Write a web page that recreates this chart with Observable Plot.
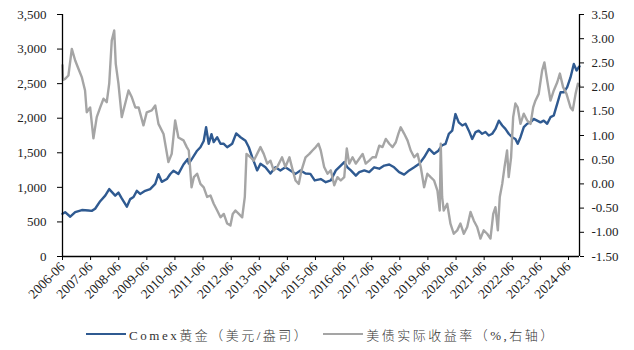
<!DOCTYPE html>
<html><head><meta charset="utf-8">
<script src="https://cdn.jsdelivr.net/npm/d3@7"></script>
<script src="https://cdn.jsdelivr.net/npm/@observablehq/plot@0.6"></script>
<style>
body{margin:0;background:#fff;}
#chart{width:634px;height:350px;overflow:hidden;background:#fff;}
.legend{display:flex;justify-content:center;align-items:center;height:32px;font-family:"Liberation Serif","Noto Sans CJK SC",serif;font-size:13px;font-weight:300;letter-spacing:2.5px;color:#333;padding-left:8px;}
.legend .item{display:flex;align-items:center;}
.legend .sw{width:40px;height:2.5px;margin-right:3px;}
</style></head>
<body><div id="chart"></div>
<script>
const goldDates = ["2006-06-01","2006-07-05","2006-09-10","2006-11-13","2007-02-08","2007-05-04","2007-06-16","2007-07-30","2007-10-04","2007-12-08","2008-01-29","2008-03-02","2008-04-16","2008-05-28","2008-07-10","2008-09-14","2008-10-28","2008-12-10","2009-01-22","2009-03-06","2009-05-10","2009-07-14","2009-09-18","2009-10-30","2009-12-12","2010-02-16","2010-03-30","2010-05-12","2010-07-16","2010-09-20","2010-11-15","2010-11-28","2011-01-12","2011-03-16","2011-04-28","2011-06-10","2011-07-11","2011-08-14","2011-09-19","2011-10-18","2011-12-02","2012-01-14","2012-02-26","2012-04-10","2012-06-14","2012-08-05","2012-09-30","2012-12-04","2013-01-16","2013-02-28","2013-05-04","2013-06-16","2013-08-20","2013-10-24","2013-12-28","2014-03-02","2014-05-06","2014-07-10","2014-09-15","2014-11-18","2015-01-23","2015-03-27","2015-05-22","2015-08-09","2015-10-13","2015-12-17","2016-02-21","2016-04-25","2016-06-09","2016-07-21","2016-09-03","2016-11-07","2016-12-21","2017-02-25","2017-04-29","2017-07-03","2017-09-07","2017-11-11","2018-01-15","2018-03-19","2018-05-23","2018-07-27","2018-10-01","2018-12-05","2019-02-09","2019-04-13","2019-06-17","2019-08-21","2019-10-16","2019-11-28","2020-01-16","2020-02-28","2020-04-12","2020-05-24","2020-07-06","2020-08-20","2020-10-02","2020-11-14","2020-12-28","2021-02-10","2021-03-22","2021-05-06","2021-06-18","2021-07-31","2021-09-14","2021-10-26","2021-12-09","2022-01-22","2022-03-04","2022-04-16","2022-05-31","2022-07-12","2022-08-11","2022-09-16","2022-10-29","2022-12-12","2023-01-25","2023-03-07","2023-04-20","2023-06-03","2023-07-15","2023-08-29","2023-10-11","2023-11-23","2024-01-07","2024-02-19","2024-04-01","2024-05-15","2024-06-27","2024-08-09","2024-09-14","2024-10-13","2024-10-22"];
const goldValues = [617,641,575,641,672,665,660,690,800,880,975,935,880,925,840,720,830,860,950,905,950,975,1050,1190,1080,1120,1190,1240,1195,1330,1410,1345,1420,1530,1580,1670,1870,1630,1770,1655,1725,1630,1630,1580,1630,1780,1725,1675,1580,1440,1245,1340,1290,1200,1290,1245,1290,1245,1195,1245,1200,1195,1100,1120,1075,1100,1245,1315,1365,1290,1245,1170,1220,1245,1220,1290,1270,1315,1330,1290,1220,1185,1245,1290,1340,1435,1555,1485,1530,1605,1630,1775,1820,2060,1940,1895,1920,1820,1700,1800,1820,1775,1800,1750,1775,1845,1965,1895,1845,1775,1725,1700,1630,1725,1870,1920,1940,1990,1965,1940,1965,1920,2015,2040,2210,2375,2375,2450,2590,2785,2690,2740,2750];

const yieldDates = ["2006-06-01","2006-06-07","2006-07-05","2006-08-17","2006-09-30","2006-11-13","2006-12-25","2007-02-08","2007-03-21","2007-04-12","2007-05-26","2007-07-08","2007-08-20","2007-10-04","2007-11-16","2007-12-28","2008-01-29","2008-03-02","2008-04-03","2008-04-23","2008-05-28","2008-07-10","2008-08-24","2008-10-06","2008-11-18","2009-01-02","2009-02-14","2009-04-18","2009-05-31","2009-08-04","2009-09-18","2009-10-30","2010-01-04","2010-03-08","2010-04-20","2010-06-04","2010-07-16","2010-09-20","2010-11-02","2010-11-28","2011-01-03","2011-02-02","2011-03-16","2011-04-28","2011-06-10","2011-07-24","2011-09-06","2011-10-18","2011-12-02","2012-01-14","2012-02-26","2012-04-10","2012-05-22","2012-06-21","2012-07-26","2012-09-08","2012-10-22","2012-11-25","2012-12-17","2013-02-08","2013-03-21","2013-05-04","2013-06-16","2013-07-29","2013-09-12","2013-10-24","2013-12-06","2014-01-20","2014-03-24","2014-05-06","2014-06-28","2014-08-10","2014-09-15","2014-10-27","2014-12-02","2015-01-23","2015-03-14","2015-04-23","2015-06-05","2015-07-10","2015-08-09","2015-09-22","2015-11-05","2015-12-17","2016-01-31","2016-03-13","2016-04-25","2016-06-09","2016-07-12","2016-08-13","2016-09-25","2016-11-07","2016-12-21","2017-02-03","2017-03-15","2017-04-29","2017-06-11","2017-07-23","2017-09-07","2017-10-19","2017-12-01","2018-01-15","2018-02-27","2018-04-10","2018-05-14","2018-06-13","2018-07-27","2018-09-09","2018-10-21","2018-12-05","2019-01-17","2019-02-28","2019-04-13","2019-05-25","2019-07-07","2019-08-21","2019-10-03","2019-11-02","2019-11-15","2019-12-03","2019-12-24","2020-02-07","2020-03-20","2020-05-02","2020-06-16","2020-07-28","2020-09-10","2020-10-24","2020-12-06","2021-01-18","2021-03-02","2021-04-14","2021-05-26","2021-07-10","2021-08-22","2021-09-27","2021-10-26","2021-11-26","2021-12-21","2022-01-22","2022-02-21","2022-03-26","2022-04-16","2022-05-17","2022-06-13","2022-07-12","2022-08-11","2022-09-16","2022-10-29","2022-12-12","2023-01-25","2023-02-28","2023-03-29","2023-05-11","2023-06-24","2023-07-24","2023-08-29","2023-10-11","2023-11-23","2024-01-07","2024-02-10","2024-03-23","2024-05-06","2024-06-27","2024-07-26","2024-09-01","2024-10-01","2024-10-22"];
const yieldValues = [2.45,2.15,2.17,2.24,2.79,2.55,2.38,2.20,1.93,1.48,1.58,0.94,1.38,1.58,1.76,1.69,2.07,2.96,3.17,2.48,2.07,1.38,1.66,1.93,1.79,1.58,1.58,1.21,1.48,1.52,1.62,1.24,1.03,0.45,0.62,1.31,0.96,0.90,0.76,0.69,-0.07,0.14,0.21,0.00,-0.07,-0.27,-0.24,-0.41,-0.55,-0.69,-0.62,-0.82,-0.86,-0.62,-0.55,-0.62,-0.69,-0.27,0.62,0.55,0.48,0.62,0.76,0.62,0.42,0.48,0.28,0.35,0.55,0.35,0.55,0.28,0.07,0.00,0.28,0.55,0.62,0.69,0.76,0.83,0.69,0.35,0.21,0.28,-0.03,0.14,0.07,0.14,0.73,0.42,0.55,0.42,0.52,0.62,0.42,0.48,0.55,0.55,0.79,0.76,0.93,0.83,0.76,0.86,1.04,1.17,1.04,0.90,0.69,0.55,0.62,0.35,-0.07,0.21,0.14,0.07,-0.14,-0.55,0.83,-0.27,-0.55,-0.41,-0.82,-1.03,-0.96,-0.82,-1.03,-0.89,-0.58,-0.76,-0.89,-1.13,-0.96,-1.03,-1.13,-0.62,-0.48,-0.96,-0.27,0.00,0.35,0.69,0.14,0.55,1.38,1.66,1.58,1.24,1.45,1.31,1.24,1.58,1.72,1.86,2.34,2.51,2.14,1.72,1.93,2.10,2.28,2.00,1.86,1.58,1.52,1.86,2.07,2.03];

const xDomain = ["2006-06-01","2024-10-22"];
const xTickLabels = ["2006-06","2007-06","2008-06","2009-06","2010-06","2011-06","2012-06","2013-06","2014-06","2015-06","2016-06","2017-06","2018-06","2019-06","2020-06","2021-06","2022-06","2023-06","2024-06"];
const leftTicks = [0,500,1000,1500,2000,2500,3000,3500];
const rightTicks = [-1.5,-1,-0.5,0,0.5,1,1.5,2,2.5,3,3.5];
const seriesNames = ["Comex黄金（美元/盎司）","美债实际收益率（%,右轴）"];
const colors = ["#2f5a91","#a5a5a5"];

const parse = d3.utcParse("%Y-%m-%d");
const parseM = d3.utcParse("%Y-%m");
const gold = goldDates.map((d,i)=>({date:parse(d), value:goldValues[i]}));
const yld = yieldDates.map((d,i)=>({date:parse(d), value:yieldValues[i]}));
const lMin = leftTicks[0], lMax = leftTicks[leftTicks.length-1];
const rMin = rightTicks[0], rMax = rightTicks[rightTicks.length-1];
const toLeft = v => lMin + (v - rMin)/(rMax - rMin)*(lMax - lMin);
const toRight = u => rMin + (u - lMin)/(lMax - lMin)*(rMax - rMin);
const x0 = parse(xDomain[0]), x1 = parse(xDomain[1]);

const chart = Plot.plot({
  width:634, height:318,
  marginTop:14, marginBottom:62, marginLeft:62, marginRight:55,
  x:{type:"utc", domain:[x0,x1]},
  y:{domain:[lMin,lMax]},
  style:{fontFamily:"'Liberation Serif', serif", fontSize:"13px", color:"#222", background:"#fff"},
  marks:[
    Plot.line(gold, {x:"date", y:"value", stroke:colors[0], strokeWidth:2.4}),
    Plot.line(yld, {x:"date", y:d=>toLeft(d.value), stroke:colors[1], strokeWidth:2.4}),
    Plot.axisY(leftTicks, {anchor:"left", tickFormat:d3.format(","), tickSize:5, tickPadding:11, label:null, stroke:"#000"}),
    Plot.axisY(rightTicks.map(toLeft), {anchor:"right", tickFormat:u=>toRight(u).toFixed(2), tickSize:4, tickPadding:8, label:null, stroke:"#000"}),
    Plot.axisX(xTickLabels.map(s=>parseM(s)), {tickFormat:d3.utcFormat("%Y-%m"), tickRotate:-45, tickSize:4, tickPadding:4, fontSize:13.5, label:null, stroke:"#000"}),
    Plot.ruleY([lMin], {stroke:"#000", strokeWidth:1.3}),
    Plot.ruleX([x0], {stroke:"#000", strokeWidth:1.3}),
    Plot.ruleX([x1], {stroke:"#000", strokeWidth:1.3})
  ]
});
const root = document.getElementById("chart");
root.appendChild(chart);
const legend = document.createElement("div");
legend.className = "legend";
seriesNames.forEach((name,i)=>{
  const it = document.createElement("div");
  it.className = "item";
  if (i>0) it.style.marginLeft = "14px";
  const sw = document.createElement("div");
  sw.className = "sw"; sw.style.background = colors[i];
  const tx = document.createElement("span");
  tx.textContent = name;
  it.appendChild(sw); it.appendChild(tx);
  legend.appendChild(it);
});
root.appendChild(legend);
</script></body></html>
